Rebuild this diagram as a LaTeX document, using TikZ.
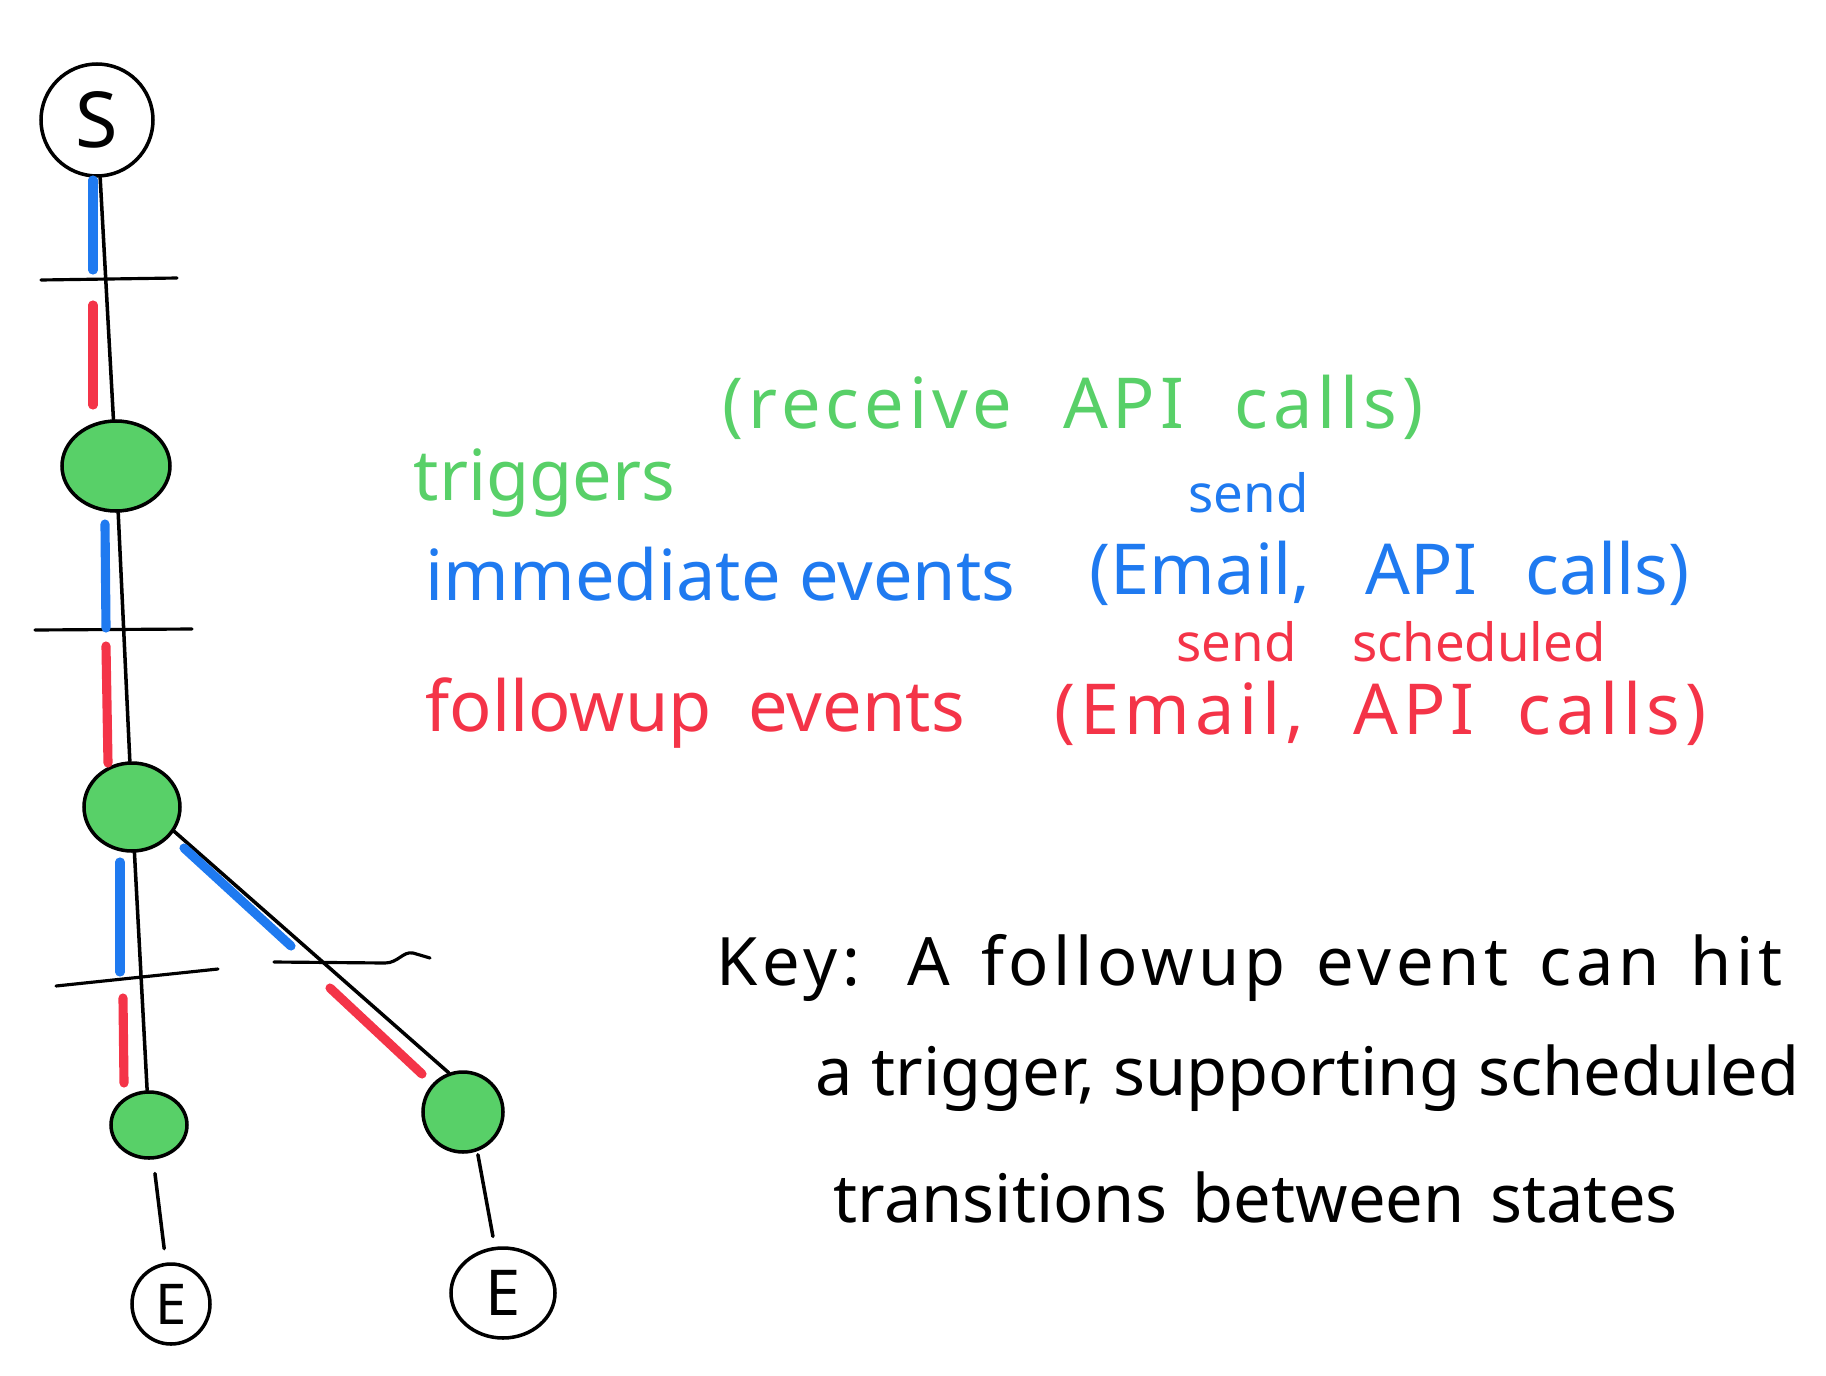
\documentclass[tikz,border=0pt]{standalone}
\usepackage{fontspec}
\setmainfont{Noto Sans}
\newfontfamily\widehand[LetterSpace=7]{Noto Sans}
\usetikzlibrary{shapes.geometric,calc}
\definecolor{hdGreen}{HTML}{58D068}
\definecolor{hdBlue}{HTML}{1F7AF0}
\definecolor{hdRed}{HTML}{F43448}
\newcommand{\spread}[2]{\makebox[#1][s]{#2}}
\newcommand{\spreadwide}[2]{\makebox[#1][s]{\widehand #2}}

\begin{document}
\begin{tikzpicture}[x=0.1mm,y=-0.1mm,
  state/.style={ellipse, draw, line width=1pt, inner sep=0pt},
  active/.style={state, fill=hdGreen},
  edge/.style={line width=1pt, line cap=round},
  tickmark/.style={line width=0.9pt, line cap=round},
  immed/.style={line width=2.6pt, line cap=round, hdBlue},
  follow/.style={line width=2.6pt, line cap=round, hdRed},
  big/.style={font=\fontsize{20}{24}\selectfont, anchor=base west, inner sep=0pt},
  small/.style={font=\fontsize{15}{18}\selectfont, anchor=base west, inner sep=0pt},
  keytext/.style={font=\fontsize{19}{23}\selectfont, anchor=base west, inner sep=0pt}
]
\useasboundingbox (0,0) rectangle (1826,1376);
% states of the tree
\node[state, minimum width=11.2mm, minimum height=11.2mm, font=\fontsize{22}{24}\selectfont] (start) at (97,120) {S};
\node[active, minimum width=10.8mm, minimum height=9mm] (s1) at (116,466) {};
\node[active, minimum width=9.6mm, minimum height=8.8mm] (s2) at (132,807) {};
\node[active, minimum width=7.6mm, minimum height=6.6mm] (s3) at (149,1125) {};
\node[active, minimum width=8mm, minimum height=8mm] (s4) at (463,1112) {};
\node[state, minimum width=7.8mm, minimum height=8mm, font=\fontsize{16}{18}\selectfont] (endA) at (171,1304) {E};
\node[state, minimum width=10.4mm, minimum height=9mm, font=\fontsize{18}{20}\selectfont] (endB) at (503,1293) {E};
% transitions
\draw[edge] (start) -- (s1);
\draw[edge] (s1) -- (s2);
\draw[edge] (s2) -- (s3);
\draw[edge] (s2.-30) -- (s4.110);
\draw[edge, shorten <=4pt, shorten >=4pt] (s3) -- (endA);
\draw[edge, shorten <=1pt, shorten >=3pt] (s4.-70) -- (endB.100);
% cross ticks
\coordinate (tA1) at (41,280);  \coordinate (tA2) at (177,278);
\coordinate (tB1) at (35,630);  \coordinate (tB2) at (192,629);
\coordinate (tC1) at (56,986);  \coordinate (tC2) at (218,969);
\coordinate (tD1) at (274,962); \coordinate (tD2) at (430,958);
\draw[tickmark] (tA1) -- (tA2);
\draw[tickmark] (tB1) -- (tB2);
\draw[tickmark] (tC1) -- (tC2);
\draw[tickmark] (tD1) -- (385,963) .. controls (398,963) and (403,951) .. (413,953) -- (tD2);
% event strokes
\draw[immed] (93,180) -- (93,270);
\draw[follow] (93,305) -- (93,405);
\draw[immed] (105,524) -- (106,628);
\draw[follow] (106,646) -- (108,763);
\draw[immed] (120,862) -- (120,972);
\draw[follow] (123,998) -- (124,1083);
\draw[immed] (184,848) -- (291,946);
\draw[follow] (330,988) -- (422,1074);
% legend
\node[big, hdGreen] (trig) at (413,500) {triggers};
\node[big, hdGreen] (trigN) at (722,428) {\spreadwide{70.1mm}{(receive API calls)}};
\node[big, hdBlue] (imm) at (425,600) {immediate events};
\node[small, hdBlue] (immS) at (1188,512) {send};
\node[big, hdBlue] (immN) at (1089,594) {\spread{60mm}{(Email, API calls)}};
\node[big, hdRed] (fol) at (425,731) {\spread{53.9mm}{followup events}};
\node[small, hdRed] (folS) at (1176,661) {\spread{42.9mm}{send scheduled}};
\node[big, hdRed] (folN) at (1054,734) {\spreadwide{65.2mm}{(Email, API calls)}};
% key
\node[keytext] (key1) at (716,985) {\spreadwide{106.6mm}{Key: A followup event can hit}};
\node[keytext] (key2) at (815,1095) {\spread{98.4mm}{a trigger, supporting scheduled}};
\node[keytext] (key3) at (833,1222) {\spread{84.4mm}{transitions between states}};
\end{tikzpicture}
\end{document}
